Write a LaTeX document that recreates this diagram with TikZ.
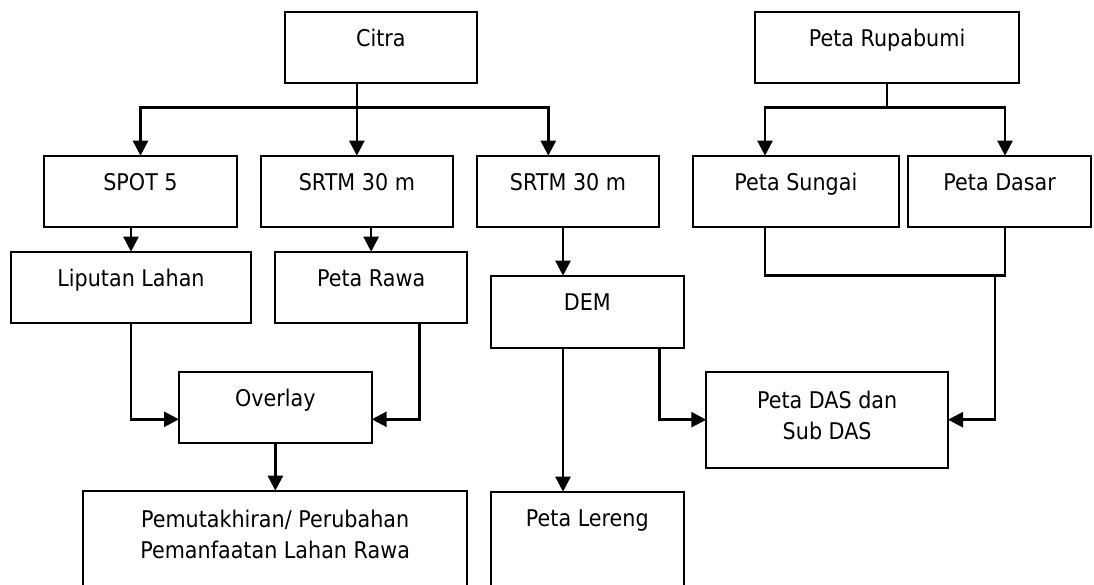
\documentclass[tikz,border=0pt]{standalone}
\usepackage{fontspec}
\setmainfont{DejaVu Sans}[FakeStretch=0.9]
\usetikzlibrary{arrows.meta}
\begin{document}
\begin{tikzpicture}[x=1pt,y=-1pt,
  lab/.style={anchor=base, yshift=-35pt, inner sep=0pt, font=\fontsize{23}{31.5}\selectfont},
  labtwo/.style={anchor=center, yshift=-43.5pt, inner sep=0pt, align=center, font=\fontsize{23}{31.5}\selectfont},
  bx/.style n args={3}{draw, line width=2.1pt, inner sep=0pt, outer sep=0pt,
     minimum width=#1, minimum height=#2, label={[lab]north:#3}},
  bxtwo/.style n args={2}{draw, line width=2.1pt, inner sep=0pt, outer sep=0pt,
     minimum width=#1, minimum height=#2},
  ln/.style={line width=2.5pt},
  arr/.style={line width=2.5pt, -{Triangle[length=15pt,width=15pt]}},
  arrtwo/.style={line width=2.5pt, {Triangle[length=15pt,width=15pt]}-{Triangle[length=15pt,width=15pt]}}]
\useasboundingbox (0,0) rectangle (1094,585);
\clip (0,0) rectangle (1094,585);
\fill[white] (0,0) rectangle (1094,585);

% boxes
\node[bx={192.3pt}{71.6pt}{Citra}] (citra) at (380.85,47.5) {};
\node[bx={264pt}{71.6pt}{Peta Rupabumi}] (rupa) at (887,47.5) {};
\node[bx={192.4pt}{71.6pt}{SPOT 5}] (spot) at (140.5,191.5) {};
\node[bx={192.3pt}{71.6pt}{SRTM 30 m}] (srtmA) at (356.85,191.5) {};
\node[bx={182.6pt}{71.6pt}{SRTM 30 m}] (srtmB) at (568,191.5) {};
\node[bx={206.3pt}{71.6pt}{Peta Sungai}] (sungai) at (795.85,191.5) {};
\node[bx={182.7pt}{71.6pt}{Peta Dasar}] (dasar) at (999.65,191.5) {};
\node[bx={240pt}{71.6pt}{Liputan Lahan}] (liputan) at (131,287.5) {};
\node[bx={192.3pt}{71.6pt}{Peta Rawa}] (rawa) at (371.15,287.5) {};
\node[bx={192.6pt}{72pt}{DEM}] (dem) at (587.3,311.7) {};
\node[bx={192.7pt}{71.6pt}{Overlay}] (overlay) at (275.35,407.5) {};
\node[bxtwo={241.7pt}{96pt}, label={[labtwo]north:Peta DAS dan\\Sub DAS}] (das) at (827.15,419.7) {};
\node[bxtwo={383.8pt}{120pt}, label={[labtwo]north:Pemutakhiran/ Perubahan\\Pemanfaatan Lahan Rawa}] (pemut) at (275.1,550.7) {};
\node[bx={192.6pt}{120pt}{Peta Lereng}] (lereng) at (587.3,551.7) {};

% helper coordinates
\coordinate (cbar) at (0,107.3);
\coordinate (ubar) at (0,275.7);
\coordinate (inB) at ([xshift=-19.7pt]srtmB.north);
\coordinate (inS) at ([xshift=-30.85pt]sungai.north);
\coordinate (inD) at ([xshift=5.35pt]dasar.north);
\coordinate (inDem) at ([xshift=-24.3pt]dem.north);
\coordinate (ovL) at ([yshift=-11.8pt]overlay.west);
\coordinate (ovR) at ([yshift=-11.8pt]overlay.east);
\coordinate (rawaOut) at ([xshift=48.2pt]rawa.south);
\coordinate (demOut) at ([xshift=72pt]dem.south);
\coordinate (sOut) at ([xshift=-30.85pt]sungai.south);
\coordinate (dOut) at ([xshift=5.35pt]dasar.south);
\coordinate (uDrop) at (995,275.7);

% connectors from Citra
\draw[arr] (srtmA.north |- citra.south) -- (srtmA.north);
\draw[arrtwo] (spot.north) |- (inB |- cbar) -- (inB);

% connectors from Peta Rupabumi
\draw[ln] (rupa.south) -- (rupa.south |- cbar);
\draw[arrtwo] (inS) |- (inD |- cbar) -- (inD);

% second level
\draw[arr] (liputan.north |- spot.south) -- (liputan.north);
\draw[arr] (rawa.north |- srtmA.south) -- (rawa.north);
\draw[arr] (inDem |- srtmB.south) -- (inDem);

% to Overlay
\draw[arr] (liputan.south) |- (ovL);
\draw[arr] (rawaOut) |- (ovR);
\draw[arr] (overlay.south) -- (overlay.south |- pemut.north);

% from DEM
\draw[arr] (inDem |- dem.south) -- (inDem |- lereng.north);
\draw[arr] (demOut) |- (das.west);

% Sungai / Dasar to DAS
\draw[ln] (sOut) |- (dOut |- ubar) -- (dOut);
\draw[arr] (uDrop) |- (das.east);
\end{tikzpicture}
\end{document}
